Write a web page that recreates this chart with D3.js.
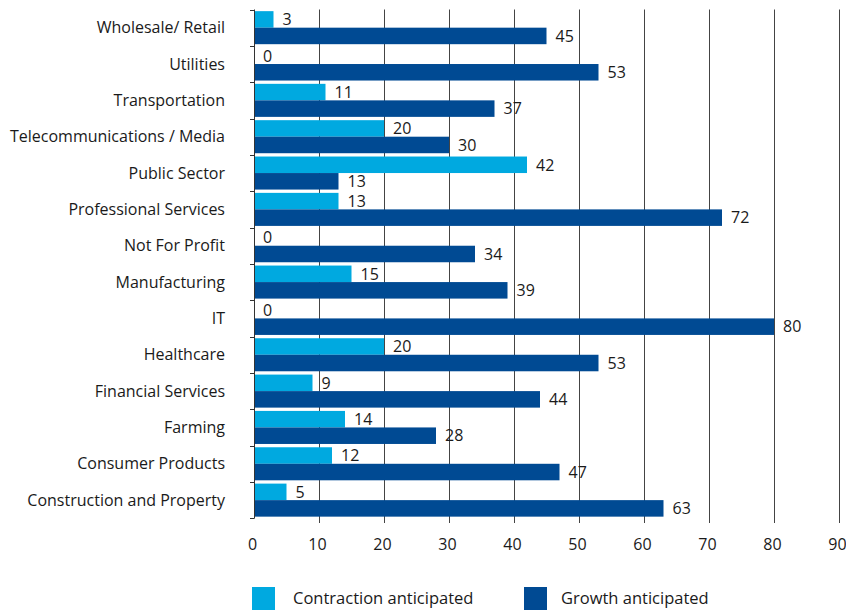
<!DOCTYPE html>
<html><head><meta charset="utf-8">
<script src="https://cdn.jsdelivr.net/npm/d3@7"></script>
<style>body{margin:0;background:#fff;} svg{display:block;} text{font-family:"Open Sans",sans-serif;fill:#1a1a1a;}</style>
</head><body>
<svg id="c" width="846" height="610"></svg>
<script>
const categories = ["Wholesale/ Retail","Utilities","Transportation","Telecommunications / Media","Public Sector","Professional Services","Not For Profit","Manufacturing","IT","Healthcare","Financial Services","Farming","Consumer Products","Construction and Property"];
const contraction = [3,0,11,20,42,13,0,15,0,20,9,14,12,5];
const growth = [45,53,37,30,13,72,34,39,80,53,44,28,47,63];
const seriesNames = ["Contraction anticipated","Growth anticipated"];
const xTicks = [0,10,20,30,40,50,60,70,80,90];
const colors = ["#00a9e0","#004a93"];

const svg = d3.select("#c");
const x = d3.scaleLinear().domain([0,90]).range([254,839]);
const y = d3.scaleBand().domain(categories).range([9.5,518.3]).paddingInner(0).paddingOuter(0);
const inner = d3.scaleBand().domain([0,1]).range([0,y.bandwidth()]).paddingInner(0).paddingOuter(0.1);

// gridlines
svg.append("g").selectAll("line").data(xTicks.slice(1)).join("line")
  .attr("x1",d=>x(d)+0.5).attr("x2",d=>x(d)+0.5).attr("y1",9.5).attr("y2",523)
  .attr("stroke","#444").attr("stroke-width",1);

// x axis
const xa = svg.append("g").attr("transform","translate(-2,518.3)")
  .call(d3.axisBottom(x).tickValues(xTicks).tickSize(0).tickPadding(20));
xa.select(".domain").remove();
xa.selectAll("text").style("font-family","Open Sans").style("font-size","16px").attr("fill","#1a1a1a");

// y axis line + ticks at boundaries
svg.append("line").attr("x1",254.5).attr("x2",254.5).attr("y1",9.5).attr("y2",518.3).attr("stroke","#333");
const bounds = categories.map(c=>y(c)).concat([y.range()[1]]);
svg.append("g").selectAll("line").data(bounds).join("line")
  .attr("x1",250).attr("x2",254.5).attr("y1",d=>Math.round(d)+0.5).attr("y2",d=>Math.round(d)+0.5).attr("stroke","#333");

// category labels
svg.append("g").selectAll("text").data(categories).join("text")
  .attr("x",225).attr("y",d=>y(d)+y.bandwidth()/2).attr("text-anchor","end").attr("dy","0.35em")
  .style("font-size","16px").text(d=>d);

const series = [contraction, growth];
series.forEach((vals,si)=>{
  const g = svg.append("g");
  g.selectAll("rect").data(vals).join("rect")
    .attr("x",x(0)+1).attr("y",(d,i)=>y(categories[i])+inner(si))
    .attr("width",d=>Math.max(0,x(d)-x(0)-1)).attr("height",inner.bandwidth())
    .attr("fill",colors[si]);
  g.selectAll("text").data(vals).join("text")
    .attr("x",d=>x(d)+9).attr("y",(d,i)=>y(categories[i])+inner(si)+inner.bandwidth()/2)
    .attr("dy","0.36em").style("font-size","16px").text(d=>d);
});

// legend
const lg = svg.append("g");
const lx = [252,524];
const tx = [293,561];
seriesNames.forEach((n,i)=>{
  lg.append("rect").attr("x",lx[i]).attr("y",587).attr("width",23).attr("height",23).attr("fill",colors[i]);
  lg.append("text").attr("x",tx[i]).attr("y",604).style("font-size","16.5px").text(n);
});
</script>
</body></html>
